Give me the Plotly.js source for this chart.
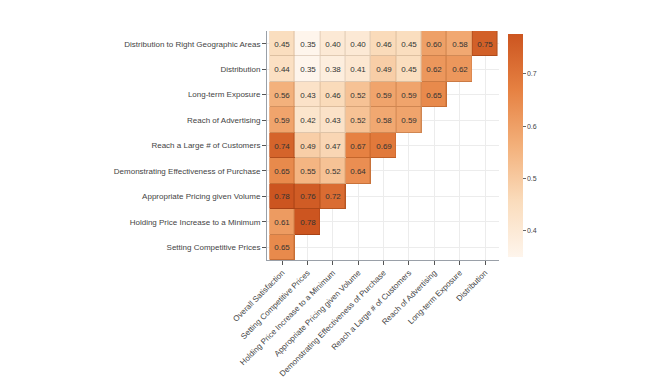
<!DOCTYPE html>
<html>
<head>
<meta charset="utf-8">
<script src="https://cdn.plot.ly/plotly-3.0.1.min.js"></script>
<style>html,body{margin:0;padding:0;background:#fff;}#chart{width:650px;height:390px;}</style>
</head>
<body>
<div id="chart"></div>
<script>
const rowLabels = [
  "Distribution to Right Geographic Areas",
  "Distribution",
  "Long-term Exposure",
  "Reach of Advertising",
  "Reach a Large # of Customers",
  "Demonstrating Effectiveness of Purchase",
  "Appropriate Pricing given Volume",
  "Holding Price Increase to a Minimum",
  "Setting Competitive Prices"
];
const colLabels = [
  "Overall Satisfaction",
  "Setting Competitive Prices",
  "Holding Price Increase to a Minimum",
  "Appropriate Pricing given Volume",
  "Demonstrating Effectiveness of Purchase",
  "Reach a Large # of Customers",
  "Reach of Advertising",
  "Long-term Exposure",
  "Distribution"
];
const rowDistRightGeo = [0.45, 0.35, 0.40, 0.40, 0.46, 0.45, 0.60, 0.58, 0.75];
const rowDistribution = [0.44, 0.35, 0.38, 0.41, 0.49, 0.45, 0.62, 0.62];
const rowLongTerm     = [0.56, 0.43, 0.46, 0.52, 0.59, 0.59, 0.65];
const rowReachAdv     = [0.59, 0.42, 0.43, 0.52, 0.58, 0.59];
const rowReachLarge   = [0.74, 0.49, 0.47, 0.67, 0.69];
const rowDemo         = [0.65, 0.55, 0.52, 0.64];
const rowApprPricing  = [0.78, 0.76, 0.72];
const rowHolding      = [0.61, 0.78];
const rowSetting      = [0.65];

const rows = [rowDistRightGeo, rowDistribution, rowLongTerm, rowReachAdv, rowReachLarge, rowDemo, rowApprPricing, rowHolding, rowSetting];
const z = rows.map(r => colLabels.map((c, j) => j < r.length ? r[j] : null));
const txt = rows.map(r => colLabels.map((c, j) => j < r.length ? r[j].toFixed(2) : ""));

const zmin = 0.35, zmax = 0.776;
const cs = [
  [0, "#fef5ec"],
  [0.25, "#fadcbc"],
  [0.5, "#f3b07a"],
  [0.75, "#e68142"],
  [1, "#cc5520"]
];
const csDark = [
  [0, "#e3d3c4"],
  [0.25, "#ddbf9f"],
  [0.5, "#d4915e"],
  [0.75, "#c4662c"],
  [1, "#a84215"]
];

const border = {
  type: "heatmap", x: colLabels, y: rowLabels, z: z,
  colorscale: csDark, zmin: zmin, zmax: zmax, showscale: false, hoverinfo: "skip"
};
const main = {
  type: "heatmap", x: colLabels, y: rowLabels, z: z,
  colorscale: cs, zmin: zmin, zmax: zmax, xgap: 1, ygap: 1,
  text: txt, texttemplate: "%{text}",
  textfont: {family: "Liberation Sans, Arial, sans-serif", size: 8, color: "#333"},
  colorbar: {
    x: 1.039, xanchor: "left", xpad: 0, y: 0.5, yanchor: "middle", ypad: 0,
    len: 0.975, thickness: 15, outlinewidth: 0,
    tickvals: [0.4, 0.5, 0.6, 0.7], ticks: "outside", ticklen: 3, tickcolor: "#666",
    tickfont: {family: "Liberation Sans, Arial, sans-serif", size: 7, color: "#444"}
  }
};

const layout = {
  width: 650, height: 390,
  margin: {l: 267, r: 151, t: 31, b: 130},
  paper_bgcolor: "#fff", plot_bgcolor: "#fff",
  font: {family: "Liberation Sans, Arial, sans-serif", size: 8, color: "#444"},
  xaxis: {
    type: "category", categoryorder: "array", categoryarray: colLabels,
    range: [-0.6, 8.55], tickangle: -45, ticks: "outside", ticklen: 4, tickcolor: "#555",
    showline: true, linecolor: "#9aa0a8", linewidth: 1, showgrid: true, gridcolor: "#ececec",
    zeroline: false, tickfont: {size: 8, color: "#444"}
  },
  yaxis: {
    type: "category", categoryorder: "array", categoryarray: rowLabels,
    range: [8.5, -0.5], ticks: "outside", ticklen: 4, tickcolor: "#555",
    showline: true, linecolor: "#9aa0a8", linewidth: 1, showgrid: true, gridcolor: "#ececec",
    zeroline: false, tickfont: {size: 8, color: "#444"}
  },
  showlegend: false
};

Plotly.newPlot("chart", [border, main], layout, {displayModeBar: false, staticPlot: true});
</script>
</body>
</html>
